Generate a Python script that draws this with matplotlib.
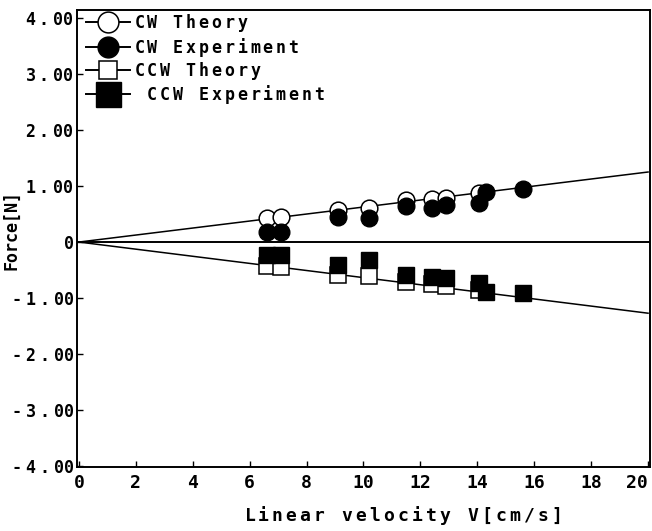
import matplotlib.pyplot as plt

# CW (clockwise) data
cw_v = [6.6, 7.1, 9.1, 10.2, 11.5, 12.4, 12.9, 14.05]
cw_theory = [0.43, 0.45, 0.57, 0.60, 0.75, 0.77, 0.79, 0.87]
cw_exp_v = [6.6, 7.1, 9.1, 10.2, 11.5, 12.4, 12.9, 14.05, 14.3, 15.6]
cw_exp = [0.18, 0.18, 0.45, 0.43, 0.64, 0.60, 0.66, 0.70, 0.89, 0.95]

# CCW (counter clockwise) data
ccw_v = [6.6, 7.1, 9.1, 10.2, 11.5, 12.4, 12.9, 14.05]
ccw_theory = [-0.43, -0.45, -0.58, -0.60, -0.72, -0.75, -0.79, -0.86]
ccw_exp_v = [6.6, 7.1, 9.1, 10.2, 11.5, 12.4, 12.9, 14.05, 14.3, 15.6]
ccw_exp = [-0.23, -0.23, -0.41, -0.32, -0.59, -0.62, -0.64, -0.73, -0.89, -0.91]

# theory lines through the origin
line_v = [0, 20]
line_up = [0, 1.25]
line_down = [0, -1.27]

yticks = [4, 3, 2, 1, 0, -1, -2, -3, -4]
ylabels = ['4 . 00', '3 . 00', '2 . 00', '1 . 00', '0',
           '- 1 . 00', '- 2 . 00', '- 3 . 00', '- 4 . 00']
xticks = list(range(0, 21, 2))
legend_labels = ['CW Theory', 'CW Experiment', 'CCW Theory', ' CCW Experiment']


def spread(s, gap=r'\,'):
    # letter spacing through mathtext space commands
    return ('$' + gap + '$').join(s)


def tick_text(s):
    return s.replace(' . ', r'$\:$.$\:$').replace('- ', r'-$\;$')


plt.rcParams['font.family'] = ['DejaVu Sans Mono', 'DejaVu Sans']
plt.rcParams['font.weight'] = 'bold'
fig = plt.figure(figsize=(6.52, 5.31), dpi=100)
ax = fig.add_axes([0.118, 0.12, 0.879, 0.861])

ax.plot(line_v, line_up, color='black', lw=1.1, zorder=1)
ax.plot(line_v, line_down, color='black', lw=1.1, zorder=1)
ax.axhline(0, color='black', lw=1.4, zorder=1)

ax.plot(cw_v, cw_theory, 'o', ms=12, mfc='white', mec='black', mew=1.1, zorder=3)
ax.plot(cw_exp_v, cw_exp, 'o', ms=12, mfc='black', mec='black', zorder=4)
ax.plot(ccw_v, ccw_theory, 's', ms=12, mfc='white', mec='black', mew=1.1, zorder=3)
ax.plot(ccw_exp_v, ccw_exp, 's', ms=12, mfc='black', mec='black', zorder=4)

# legend handles
h1, = ax.plot([], [], '-o', color='black', ms=15, mfc='white', mew=1.1, lw=1.4)
h2, = ax.plot([], [], '-o', color='black', ms=15, mfc='black', lw=1.4)
h3, = ax.plot([], [], '-s', color='black', ms=13, mfc='white', mew=1.1, lw=1.4)
h4, = ax.plot([], [], '-s', color='black', ms=18, mfc='black', lw=1.4)
leg = ax.legend([h1, h2, h3, h4], [spread(t) for t in legend_labels],
                loc='upper left', bbox_to_anchor=(0.005, 1.01),
                frameon=False, handlelength=2.6, handletextpad=0.25,
                labelspacing=0.08, borderaxespad=0.2, borderpad=0.2,
                prop={'size': 12, 'weight': 'bold'})

ax.set_xlim(-0.07, 20.07)
ax.set_ylim(-4.02, 4.14)
ax.set_xticks(xticks)
ax.set_xticklabels([str(t) for t in xticks], fontsize=13, fontweight='bold')
ax.get_xticklabels()[-1].set_horizontalalignment('right')
ax.set_yticks(yticks)
ax.set_yticklabels([tick_text(t) for t in ylabels], fontsize=12,
                   fontweight='bold')
ax.tick_params(direction='in', length=4, width=1)
ax.tick_params(axis='x', pad=5)
ax.tick_params(axis='y', pad=2)
for s in ax.spines.values():
    s.set_linewidth(1.4)

fig.text(0.617, 0.030, spread('Linear velocity V[cm/s]'), fontsize=13,
         fontweight='bold', ha='center', va='center')
fig.text(0.018, 0.567, 'Force[N]', fontsize=12, fontweight='bold',
         rotation=90, ha='center', va='center')

fig.savefig('out.png', dpi=100)
